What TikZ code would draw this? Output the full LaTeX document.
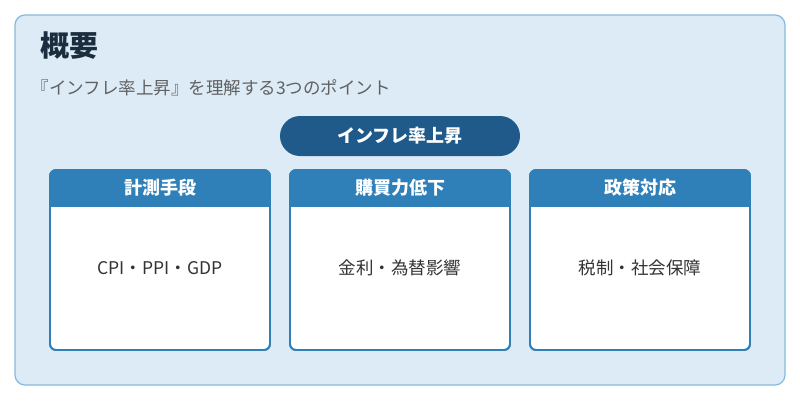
\documentclass[tikz,border=0pt]{standalone}
\usepackage{fontspec}
\setmainfont{Noto Sans CJK JP}
\begin{document}
\begin{tikzpicture}[x=1pt,y=-1pt,
  card/.style={draw=hblue,line width=1.8pt,fill=white,rounded corners=6pt},
  htxt/.style={text=white,font=\fontsize{18}{21}\selectfont\bfseries},
  btxt/.style={text=black!80,font=\fontsize{17.5}{21}\selectfont}]
\definecolor{bg}{HTML}{DCEBF6}
\definecolor{bd}{HTML}{86B9DD}
\definecolor{hblue}{HTML}{2F7FB8}
\definecolor{pill}{HTML}{1F5A8A}
\definecolor{ttl}{HTML}{1A2E40}
\useasboundingbox (0,0) rectangle (800,400);
\fill[white] (0,0) rectangle (800,400);
\draw[fill=bg,draw=bd,line width=1.2pt,rounded corners=10pt] (15,15) rectangle (785,385);
\node[anchor=west,font=\fontsize{29}{34}\selectfont\bfseries,text=ttl] (title) at (37,46) {概要};
\node[anchor=west,font=\fontsize{17.5}{21}\selectfont,text=black!62] (sub) at (28,88) {『インフレ率上昇』を理解する3つのポイント};
\node[fill=pill,rounded corners=20pt,minimum width=240pt,minimum height=40pt,htxt] (main) at (400,136) {インフレ率上昇};
\foreach \x/\n/\h/\b in {50/a/計測手段/CPI・PPI・GDP,290/b/購買力低下/金利・為替影響,530/c/政策対応/税制・社会保障}{
  \draw[card] (\x,170) rectangle ++(220,180);
  \begin{scope}
    \clip[rounded corners=6pt] (\x,170) rectangle ++(220,180);
    \fill[hblue] (\x,170) rectangle ++(220,37);
  \end{scope}
  \draw[hblue,line width=1.8pt,rounded corners=6pt] (\x,170) rectangle ++(220,180);
  \node[htxt] (h\n) at (\x+110,188) {\h};
  \node[btxt] (b\n) at (\x+110,268) {\b};
}
\end{tikzpicture}
\end{document}
